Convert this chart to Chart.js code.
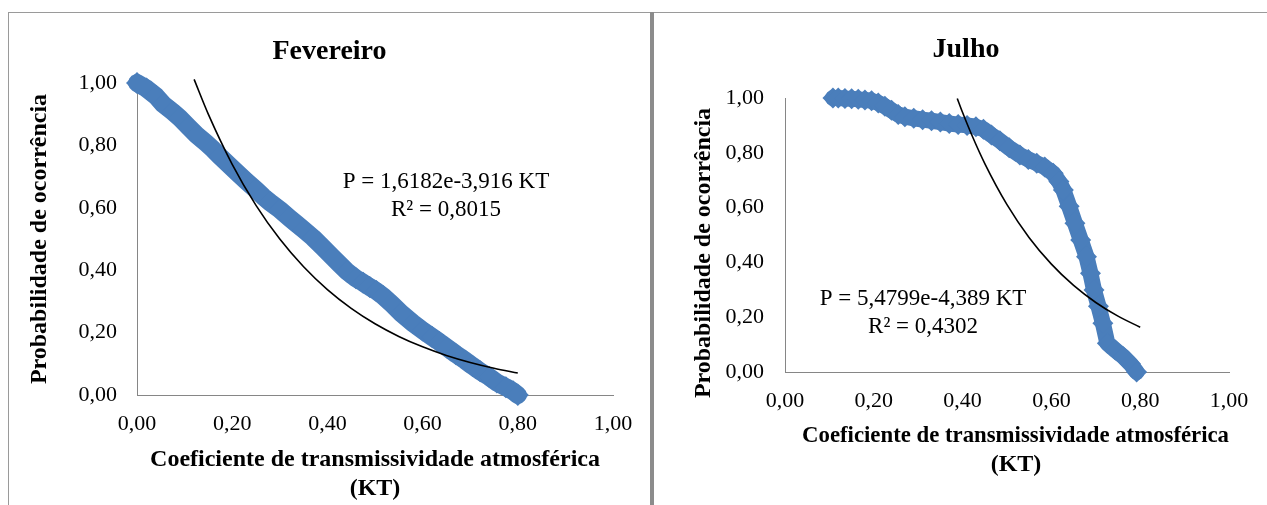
<!DOCTYPE html>
<html><head><meta charset="utf-8">
<script src="https://cdn.jsdelivr.net/npm/chart.js@4.4.1/dist/chart.umd.min.js"></script>
<style>
html,body{margin:0;padding:0;background:#fff;width:1267px;height:505px;overflow:hidden;position:relative}
canvas{position:absolute}
.ln{position:absolute}
</style></head><body>
<div class="ln" style="left:8px;top:12px;width:1259px;height:1px;background:#9a9a9a"></div>
<div class="ln" style="left:8px;top:12px;width:1px;height:493px;background:#9a9a9a"></div>
<div class="ln" style="left:650px;top:12px;width:4px;height:493px;background:#8c8c8c"></div>
<canvas id="c1" width="641" height="492" style="left:9px;top:13px"></canvas>
<canvas id="c2" width="624" height="492" style="left:654px;top:13px"></canvas>
<script>
// ---- data ----
const tickValues = [0, 0.2, 0.4, 0.6, 0.8, 1.0];
const tickLabels = ['0,00', '0,20', '0,40', '0,60', '0,80', '1,00'];

const febTitle = 'Fevereiro';
const febKT = [0, 0.02, 0.04, 0.055, 0.075, 0.09, 0.108, 0.125, 0.145, 0.16, 0.174, 0.19, 0.21, 0.23, 0.25, 0.265, 0.28, 0.3, 0.32, 0.335, 0.35, 0.37, 0.39, 0.41, 0.425, 0.441, 0.46, 0.475, 0.489, 0.503, 0.517, 0.535, 0.555, 0.58, 0.6, 0.62, 0.635, 0.651, 0.67, 0.69, 0.705, 0.721, 0.74, 0.756, 0.775, 0.79, 0.8];
const febP  = [1.0, 0.982, 0.958, 0.932, 0.908, 0.888, 0.86, 0.834, 0.808, 0.787, 0.765, 0.742, 0.713, 0.685, 0.658, 0.636, 0.617, 0.594, 0.568, 0.549, 0.53, 0.504, 0.474, 0.443, 0.42, 0.396, 0.374, 0.36, 0.346, 0.333, 0.317, 0.292, 0.262, 0.23, 0.207, 0.186, 0.17, 0.152, 0.131, 0.11, 0.093, 0.076, 0.058, 0.04, 0.025, 0.012, 0.0];
const febFitKT = [0.12, 0.15, 0.20, 0.25, 0.30, 0.35, 0.40, 0.45, 0.50, 0.55, 0.60, 0.65, 0.70, 0.75, 0.80];
const febFitP  = [1.0115, 0.8994, 0.7394, 0.6079, 0.4998, 0.4110, 0.3379, 0.2778, 0.2284, 0.1878, 0.1544, 0.1269, 0.1044, 0.0858, 0.0705];
const febEq = ['P = 1,6182e-3,916 KT', 'R² = 0,8015'];

const julTitle = 'Julho';
const julKT = [0.108, 0.12, 0.135, 0.15, 0.165, 0.18, 0.195, 0.21, 0.225, 0.24, 0.255, 0.27, 0.29, 0.31, 0.33, 0.35, 0.37, 0.39, 0.41, 0.43, 0.447, 0.465, 0.484, 0.505, 0.529, 0.548, 0.567, 0.585, 0.604, 0.617, 0.627, 0.64, 0.653, 0.666, 0.679, 0.688, 0.696, 0.706, 0.716, 0.726, 0.744, 0.762, 0.778, 0.792];
const julP  = [1.0, 1.0, 0.998, 0.997, 0.995, 0.993, 0.99, 0.982, 0.97, 0.955, 0.94, 0.932, 0.926, 0.921, 0.917, 0.912, 0.907, 0.903, 0.9, 0.895, 0.886, 0.865, 0.844, 0.818, 0.792, 0.776, 0.762, 0.748, 0.725, 0.695, 0.664, 0.605, 0.543, 0.482, 0.421, 0.36, 0.299, 0.24, 0.178, 0.105, 0.08, 0.056, 0.03, 0.0];
const julFitKT = [0.388, 0.40, 0.42, 0.45, 0.50, 0.55, 0.60, 0.65, 0.70, 0.75, 0.80];
const julFitP  = [0.9982, 0.9469, 0.8675, 0.7605, 0.6106, 0.4902, 0.3937, 0.3160, 0.2537, 0.2038, 0.1636];
const julEq = ['P = 5,4799e-4,389 KT', 'R² = 0,4302'];

const yTitle = 'Probabilidade de ocorrência';
const xTitle = ['Coeficiente de transmissividade atmosférica', '(KT)'];

// ---- rendering ----
Chart.defaults.font.family = "'Liberation Serif', 'Times New Roman', serif";
Chart.defaults.color = '#000';

const eqPlugin = {
  id: 'eq',
  afterDatasetsDraw(chart, args, opts) {
    const {ctx, scales: {x, y}} = chart;
    ctx.save();
    ctx.font = "23px 'Liberation Serif'";
    ctx.fillStyle = '#000';
    ctx.textAlign = 'center';
    ctx.textBaseline = 'middle';
    opts.lines.forEach(l => ctx.fillText(l.text, x.getPixelForValue(l.kt), y.getPixelForValue(l.p)));
    ctx.restore();
  }
};

function pts(xs, ys) { return xs.map((v, i) => ({x: v, y: ys[i]})); }
const NB = '\u00a0';

function make(id, cfg) {
  new Chart(document.getElementById(id), {
    type: 'scatter',
    data: {
      datasets: [
        {
          data: pts(cfg.fitKT, cfg.fitP),
          showLine: true, borderColor: '#000', borderWidth: 1.6,
          pointRadius: 0, cubicInterpolationMode: 'monotone', order: 0, clip: false
        },
        {
          data: pts(cfg.kt, cfg.p),
          showLine: true, borderColor: '#4A7EBB', backgroundColor: '#4A7EBB',
          borderWidth: cfg.bandW, borderJoinStyle: 'round', borderCapStyle: 'round',
          pointStyle: 'rectRot', pointRadius: cfg.ptR, pointBorderWidth: 0,
          pointBackgroundColor: '#4A7EBB', order: 1, clip: false
        }
      ]
    },
    options: {
      responsive: false, animation: false, events: [],
      layout: {padding: {left: cfg.pad, right: cfg.pad, top: 0, bottom: 0}},
      plugins: {
        legend: {display: false}, tooltip: {enabled: false},
        title: {
          display: true, text: cfg.title,
          font: {size: 28, weight: 'bold', lineHeight: 1.2},
          padding: {top: cfg.titleTop, bottom: cfg.titleBottom}
        },
        eq: {lines: cfg.eq}
      },
      scales: {
        x: {
          type: 'linear', min: 0, max: 1,
          afterBuildTicks: s => { s.ticks = tickValues.map(v => ({value: v})); },
          afterFit: s => { s.height = cfg.xH; },
          ticks: {
            padding: 16, font: {size: 22},
            callback: (v) => tickLabels[tickValues.findIndex(t => Math.abs(t - v) < 1e-9)]
          },
          grid: {display: false, drawTicks: false},
          border: {display: true, color: '#868686', width: 1},
          title: {
            display: true, text: xTitle.map(t => NB.repeat(cfg.xShift) + t),
            font: {size: 24, weight: 'bold', lineHeight: 1.2},
            padding: {top: 0, bottom: cfg.xTitleBottom}
          }
        },
        y: {
          type: 'linear', min: 0, max: 1,
          afterBuildTicks: s => { s.ticks = tickValues.map(v => ({value: v})); },
          afterFit: s => { s.width = cfg.yW; },
          ticks: {
            padding: cfg.yTickPad, font: {size: 22},
            callback: (v) => tickLabels[tickValues.findIndex(t => Math.abs(t - v) < 1e-9)]
          },
          grid: {display: false, drawTicks: false},
          border: {display: true, color: '#868686', width: 1},
          title: {
            display: true, text: yTitle + NB.repeat(cfg.yShift),
            font: {size: 24, weight: 'bold', lineHeight: 1.2},
            padding: {top: cfg.yTitleTop, bottom: 0}
          }
        }
      }
    },
    plugins: [eqPlugin]
  });
}

make('c1', {
  title: febTitle, kt: febKT, p: febP, fitKT: febFitKT, fitP: febFitP,
  eq: [{text: febEq[0], kt: 0.649, p: 0.684}, {text: febEq[1], kt: 0.649, p: 0.594}],
  pad: 37, titleTop: 22, titleBottom: 14.4, xH: 110, xTitleBottom: 2,
  yW: 91, yTickPad: 20, yTitleTop: -21, bandW: 18, ptR: 11, xShift: 0, yShift: 0
});
make('c2', {
  title: julTitle, kt: julKT, p: julP, fitKT: julFitKT, fitP: julFitP,
  eq: [{text: julEq[0], kt: 0.311, p: 0.266}, {text: julEq[1], kt: 0.311, p: 0.164}],
  pad: 49, titleTop: 19.5, titleBottom: 31.9, xH: 133, xTitleBottom: 26,
  yW: 82, yTickPad: 21, yTitleTop: -13.4, bandW: 16, ptR: 10.5, xShift: 3, yShift: 6
});
</script>
</body></html>
